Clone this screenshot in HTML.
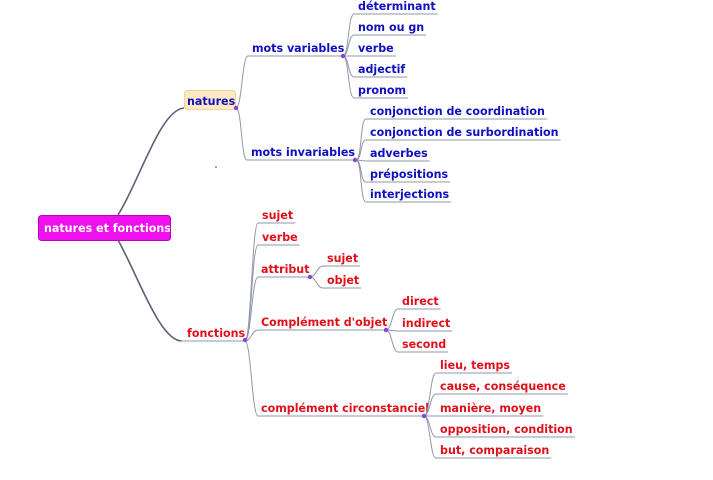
<!DOCTYPE html>
<html><head><meta charset="utf-8"><style>
html,body{margin:0;padding:0;background:#fff;width:713px;height:480px;overflow:hidden}
svg text{font-family:"DejaVu Sans","Liberation Sans",sans-serif;font-weight:bold;font-size:11.1px}
</style></head><body>
<svg id="s" width="713" height="480" xmlns="http://www.w3.org/2000/svg">
<path d="M118 215 C140 180,160 110,184 108" stroke="#5a6278" stroke-width="1.6" fill="none"/>
<path d="M118 240 C140 280,160 341,182 341" stroke="#5a6278" stroke-width="1.6" fill="none"/>
<rect x="38.5" y="215.5" width="132" height="25" rx="3" fill="#ee11ee" stroke="#b0b"/>
<svg x="38" y="215" width="132" height="26"><text x="6" y="17" fill="#fff">natures et fonctions</text></svg>
<rect x="184.5" y="90.5" width="51" height="19" rx="3" fill="#fde9c4" stroke="#f0d29a"/>
<circle cx="216" cy="167" r="0.8" fill="#336"/>
<g id="g"></g>
</svg>
<script>
var g=document.getElementById('g'),NS='http://www.w3.org/2000/svg';
function el(t,a){var e=document.createElementNS(NS,t);for(var k in a)e.setAttribute(k,a[k]);g.appendChild(e);return e;}
function txt(x,y,s,c){var t=el('text',{x:x,y:y,fill:c});t.textContent=s;return t.getComputedTextLength();}
function line(px,py,cx,cy,x2){el('path',{d:'M'+px+' '+py+' C'+(px+6)+' '+py+','+(cx-6)+' '+cy+','+cx+' '+cy+' L'+x2+' '+cy,stroke:'#8e97ab','stroke-width':1,fill:'none'});}
function dot(x,y){el('circle',{cx:x,cy:y,r:2.2,fill:'#8844cc'});}
var B='#1010c0',R='#e0101a';
function kids(px,py,x,list,c){list.forEach(function(b){var w=txt(x,b[1],b[0],c);line(px,py,x-4,b[1]+4,x+w+2);});}
txt(187,105,'natures',B);
var w=txt(187,337,'fonctions',R);
el('path',{d:'M180 341 L246 341',stroke:'#8e97ab',fill:'none'});
txt(252,52,'mots variables',B);line(236,108,248,56,343);
txt(251,156,'mots invariables',B);line(236,108,247,160,358);
kids(343,56,358,[['déterminant',10],['nom ou gn',31],['verbe',52],['adjectif',73],['pronom',94]],B);
kids(356,160,370,[['conjonction de coordination',115],['conjonction de surbordination',136],['adverbes',157],['prépositions',178],['interjections',198]],B);
kids(245,341,262,[['sujet',219],['verbe',241]],R);
txt(261,273,'attribut',R);line(245,341,258,277,311);
txt(261,326,"Complément d'objet",R);line(245,341,258,330,386);
txt(261,412,'complément circonstanciel',R);line(245,341,258,416,424);
kids(310,277,327,[['sujet',262],['objet',284]],R);
kids(386,330,402,[['direct',305],['indirect',327],['second',348]],R);
kids(424,416,440,[['lieu, temps',369],['cause, conséquence',390],['manière, moyen',412],['opposition, condition',433],['but, comparaison',454]],R);
dot(236,108);dot(343,56);dot(355,160);dot(245,340);dot(310,277);dot(386,330);dot(424,416);
</script>
</body></html>
